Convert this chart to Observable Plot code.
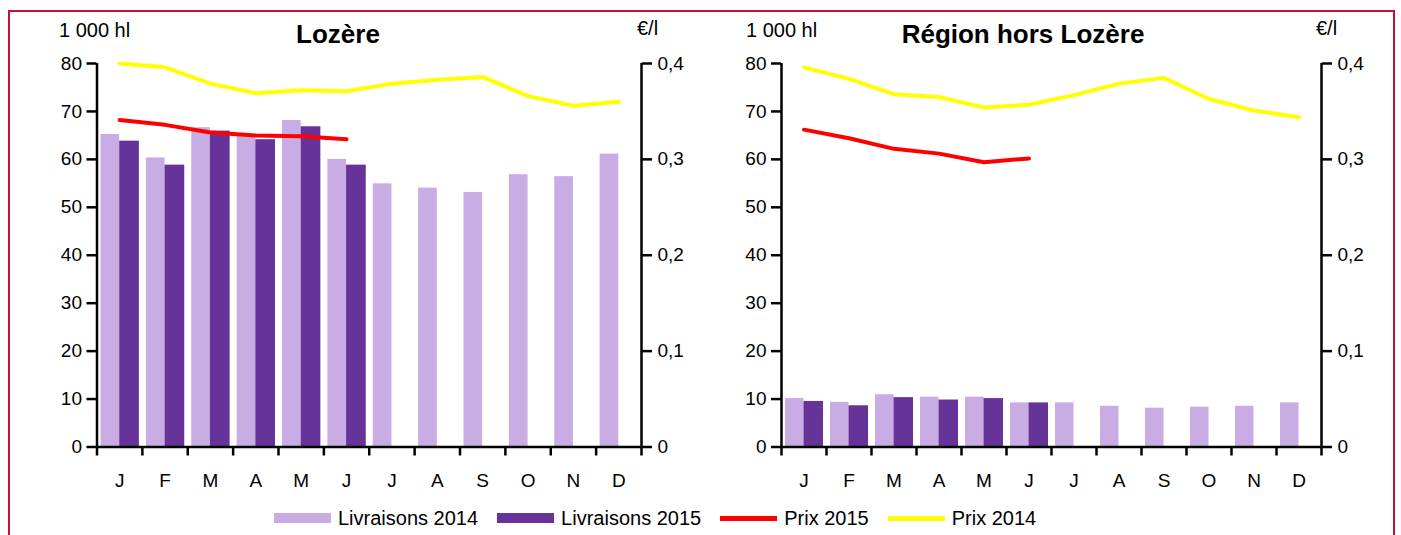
<!DOCTYPE html>
<html>
<head>
<meta charset="utf-8">
<script src="https://cdn.jsdelivr.net/npm/d3@7"></script>
<script src="https://cdn.jsdelivr.net/npm/@observablehq/plot@0.6"></script>
<style>
  html, body { margin: 0; padding: 0; background: #fff; }
  #root { position: relative; width: 1401px; height: 535px; overflow: hidden; background: #fff;
          font-family: 'Liberation Sans', Arial, sans-serif; color: #000; }
  .frame { position: absolute; left: 8px; top: 10px; width: 1383px; height: 600px; border: 2px solid #c8103e; }
  .abs { position: absolute; white-space: nowrap; line-height: 1; }
  .title { font-weight: bold; font-size: 26px; transform: translateX(-50%); }
  .unit { font-size: 20px; }
  #legend { position: absolute; left: 274px; top: 508px; height: 20px; display: flex; align-items: center; font-size: 20px; line-height: 1; }
  .sw { width: 57px; margin-right: 7px; }
  .lt { margin-right: 19px; }
</style>
</head>
<body>
<div id="root">
  <div class="frame"></div>
  <div id="left" class="abs" style="left:0;top:0"></div>
  <div id="right" class="abs" style="left:700px;top:0"></div>
  <div class="abs title" style="left:338px;top:21px">Lozère</div>
  <div class="abs title" style="left:1023px;top:21px">Région hors Lozère</div>
  <div class="abs unit" style="left:59px;top:20px">1 000 hl</div>
  <div class="abs unit" style="left:746px;top:20px">1 000 hl</div>
  <div class="abs unit" style="left:637px;top:18px">€/l</div>
  <div class="abs unit" style="left:1316px;top:18px">€/l</div>
  <div id="legend"></div>
</div>
<script>
// ---- data ----
const months = ["J","F","M","A","M","J","J","A","S","O","N","D"];
const volTicks = [0, 10, 20, 30, 40, 50, 60, 70, 80];
const priceTicks = [0, 0.1, 0.2, 0.3, 0.4];
const priceTickLabels = ["0", "0,1", "0,2", "0,3", "0,4"];

const lozLiv2014 = [65.2, 60.3, 66.6, 65.0, 68.1, 60.0, 54.9, 54.0, 53.1, 56.8, 56.4, 61.1];
const lozLiv2015 = [63.8, 58.8, 65.9, 64.1, 66.8, 58.8];
const lozPrix2014 = [0.400, 0.396, 0.379, 0.369, 0.372, 0.371, 0.379, 0.383, 0.386, 0.366, 0.356, 0.360];
const lozPrix2015 = [0.341, 0.336, 0.328, 0.325, 0.324, 0.321];

const regLiv2014 = [10.1, 9.3, 10.9, 10.4, 10.4, 9.2, 9.2, 8.5, 8.1, 8.3, 8.5, 9.2];
const regLiv2015 = [9.5, 8.6, 10.3, 9.8, 10.1, 9.2];
const regPrix2014 = [0.396, 0.384, 0.368, 0.365, 0.354, 0.357, 0.367, 0.379, 0.385, 0.363, 0.351, 0.344];
const regPrix2015 = [0.331, 0.322, 0.311, 0.306, 0.297, 0.301];

const legendItems = [
  {label: "Livraisons 2014", kind: "bar", color: "#c8ace3"},
  {label: "Livraisons 2015", kind: "bar", color: "#663399"},
  {label: "Prix 2015", kind: "line", color: "#ff0000"},
  {label: "Prix 2014", kind: "line", color: "#ffff00"}
];

// ---- styles ----
const LIGHT = "#c8ace3", DARK = "#663399", RED = "#ff0000", YELLOW = "#ffff00";
const K = 80 / 0.4; // price -> volume axis factor
const FONT = "'Liberation Sans', Arial, sans-serif";

function panel(liv14, liv15, prix14, prix15, width, ml, mr) {
  const d14 = liv14.map((v, i) => ({i, v}));
  const d15 = liv15.map((v, i) => ({i, v}));
  const p14 = prix14.map((p, i) => ({i, p}));
  const p15 = prix15.map((p, i) => ({i, p}));
  return Plot.plot({
    width, height: 500,
    marginLeft: ml, marginRight: mr, marginTop: 63, marginBottom: 53.5,
    x: {domain: [0, 12]},
    y: {domain: [0, 80]},
    style: {fontFamily: FONT, fontSize: "19px", color: "#000", background: "transparent", overflow: "visible"},
    marks: [
      Plot.rectY(d14, {x1: d => d.i, x2: d => d.i + 0.5, y1: 0, y2: "v", fill: LIGHT, insetLeft: 4}),
      Plot.rectY(d15, {x1: d => d.i + 0.5, x2: d => d.i + 1, y1: 0, y2: "v", fill: DARK, insetRight: 3}),
      Plot.ruleY([0], {strokeWidth: 2.5}),
      Plot.ruleX([0, 12], {y1: 0, y2: 80, strokeWidth: 2.5}),
      Plot.axisX({ticks: d3.range(13), tickSize: 9, tickFormat: () => "", strokeWidth: 2.5, label: null}),
      Plot.axisX({ticks: months.map((m, i) => i + 0.5), tickSize: 0, tickPadding: 26,
                  tickFormat: d => months[Math.floor(d)], fontSize: 19, label: null}),
      Plot.axisY({ticks: volTicks, tickSize: 10, tickPadding: 5, strokeWidth: 2.5, fontSize: 19, label: null}),
      Plot.axisY({anchor: "right", ticks: priceTicks.map(p => p * K), tickSize: 10, tickPadding: 6,
                  strokeWidth: 2.5, fontSize: 19, label: null,
                  tickFormat: d => priceTickLabels[Math.round(d / (0.1 * K))]}),
      Plot.line(p14, {x: d => d.i + 0.5, y: d => d.p * K, stroke: YELLOW, strokeWidth: 4, strokeLinejoin: "round"}),
      Plot.line(p15, {x: d => d.i + 0.5, y: d => d.p * K, stroke: RED, strokeWidth: 4, strokeLinejoin: "round"})
    ]
  });
}

document.getElementById("left").append(panel(lozLiv2014, lozLiv2015, lozPrix2014, lozPrix2015, 700, 96.5, 59));
document.getElementById("right").append(panel(regLiv2014, regLiv2015, regPrix2014, regPrix2015, 701, 81, 80));

const leg = document.getElementById("legend");
legendItems.forEach((it, k) => {
  const sw = document.createElement("div");
  sw.className = "sw";
  sw.style.height = it.kind === "bar" ? "10px" : "5px";
  sw.style.background = it.color;
  const tx = document.createElement("div");
  tx.className = "lt";
  tx.textContent = it.label;
  leg.append(sw, tx);
});
</script>
</body>
</html>
